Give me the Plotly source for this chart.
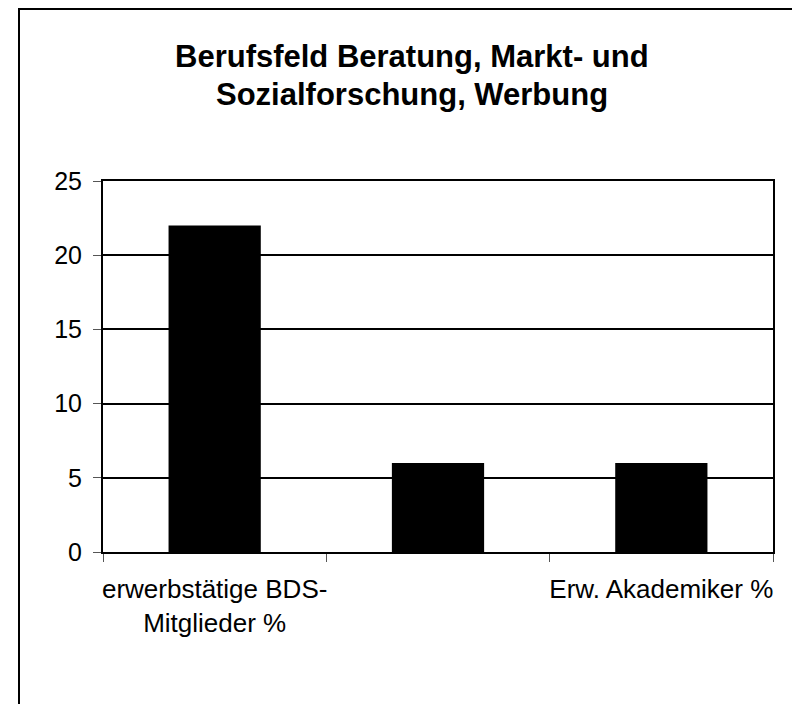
import plotly.graph_objects as go

# Data
categories = ["BDS-Mitglieder", "Kategorie 2", "Akademiker"]
tick_labels = ["erwerbstätige BDS-<br>Mitglieder %", "", "Erw. Akademiker %"]
values = [22, 6, 6]
y_ticks = [0, 5, 10, 15, 20, 25]
title_lines = ["Berufsfeld Beratung, Markt- und", "Sozialforschung, Werbung"]

OFF = 8  # page body margin
W, H = 800 - OFF, 704 - OFF
L, R, T, B = 103 - OFF, 773 - OFF, 181 - OFF, 552 - OFF

def px_x(px):
    return (px - OFF - L) / (R - L)

def px_y(py):
    return (B - (py - OFF)) / (B - T)

fig = go.Figure()
fig.add_trace(go.Bar(
    x=categories, y=values,
    marker=dict(color="black", line=dict(width=0)),
    showlegend=False,
))

font_family = "Liberation Sans, Arial, sans-serif"

fig.update_layout(
    width=W, height=H,
    margin=dict(l=L, r=W - R, t=T, b=H - B, pad=0, autoexpand=False),
    paper_bgcolor="white",
    plot_bgcolor="white",
    bargap=0.587,
    font=dict(family=font_family, size=25, color="black"),
    xaxis=dict(
        type="category",
        tickmode="array",
        tickvals=categories,
        ticktext=tick_labels,
        tickson="boundaries",
        tickangle=0,
        automargin=False,
        ticks="outside",
        ticklen=8,
        tickwidth=1,
        tickcolor="#555",
        showline=True, linecolor="black", linewidth=2, mirror=True,
        showgrid=False,
        tickfont=dict(size=26),
        ticklabelstandoff=13,
        range=[-0.5, 2.5],
    ),
    yaxis=dict(
        range=[0, 25],
        tickmode="array",
        tickvals=y_ticks,
        ticktext=[str(v) for v in y_ticks],
        automargin=False,
        ticks="outside",
        ticklen=8,
        tickwidth=1,
        tickcolor="#555",
        showline=True, linecolor="black", linewidth=2, mirror=True,
        showgrid=True, gridcolor="black", gridwidth=2,
        zeroline=False,
        ticklabelstandoff=6,
        tickfont=dict(size=25),
    ),
)

# Title lines
for txt, ypx in zip(title_lines, [57, 95]):
    fig.add_annotation(
        text=f"<b>{txt}</b>",
        xref="paper", yref="paper",
        x=px_x(411.5), y=px_y(ypx),
        xanchor="center", yanchor="middle",
        showarrow=False,
        font=dict(family=font_family, size=31, color="black"),
    )

# Outer chart frame
fig.add_shape(
    type="rect", xref="paper", yref="paper",
    x0=px_x(19), x1=px_x(815), y0=px_y(9), y1=px_y(720),
    line=dict(color="black", width=2), fillcolor="rgba(0,0,0,0)",
    layer="above",
)

fig.write_html("out.html")
